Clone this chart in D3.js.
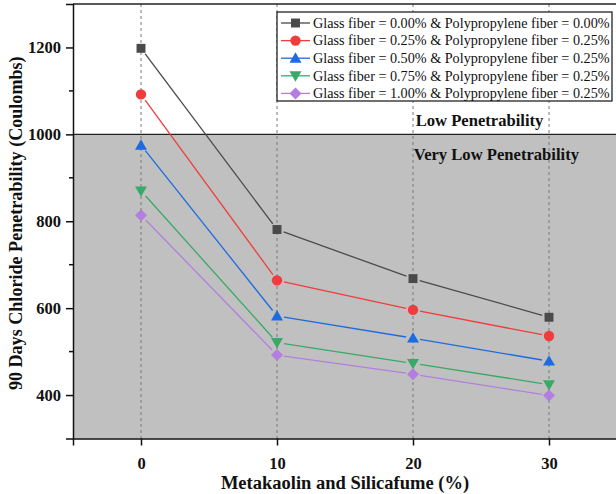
<!DOCTYPE html>
<html>
<head>
<meta charset="utf-8">
<script src="https://cdn.jsdelivr.net/npm/d3@7"></script>
<style>
  html, body { margin: 0; padding: 0; background: #fff; }
  svg { display: block; }
  text { font-family: "Liberation Serif", "Times New Roman", serif; }
</style>
</head>
<body>
<svg id="chart" width="616" height="494"></svg>
<script>
// Replacement level of metakaolin + silica fume (%)
const replacement = [0, 10, 20, 30];

// Series names (fiber dosages)
const seriesNames = [
  "Glass fiber = 0.00% & Polypropylene fiber = 0.00%",
  "Glass fiber = 0.25% & Polypropylene fiber = 0.25%",
  "Glass fiber = 0.50% & Polypropylene fiber = 0.25%",
  "Glass fiber = 0.75% & Polypropylene fiber = 0.25%",
  "Glass fiber = 1.00% & Polypropylene fiber = 0.25%"
];

// 90-day chloride penetrability (Coulombs)
const gf000 = [1198, 781, 668, 579];
const gf025 = [1092, 664, 596, 536];
const gf050 = [975, 582, 531, 478];
const gf075 = [870, 521, 473, 424];
const gf100 = [814, 492, 448, 399];

const yTicks = [400, 600, 800, 1000, 1200];
const yMinorTicks = [500, 700, 900, 1100];
const xTicks = [0, 10, 20, 30];
const zoneLimit = 1000;

const colors = ["#4a4a4a", "#f03c3c", "#1c6be0", "#38aa68", "#b27fe0"];
const symbols = ["square", "circle", "up", "down", "diamond"];

const series = [gf000, gf025, gf050, gf075, gf100].map((vals, i) => ({
  name: seriesNames[i], color: colors[i], symbol: symbols[i],
  points: vals.map((v, j) => ({ x: replacement[j], y: v }))
}));

const svg = d3.select("#chart");
const plotL = 73, plotT = 4, plotR = 617, plotB = 438.5;

const x = d3.scaleLinear().domain([-5, 35]).range([plotL, plotR]);
const y = d3.scaleLinear().domain([300, 1300]).range([plotB, plotT]);

// Penetrability zones
svg.append("rect")
  .attr("x", plotL).attr("y", y(zoneLimit))
  .attr("width", plotR - plotL).attr("height", plotB - y(zoneLimit))
  .attr("fill", "#c0c0c0");
svg.append("line")
  .attr("x1", plotL).attr("x2", plotR)
  .attr("y1", y(zoneLimit)).attr("y2", y(zoneLimit))
  .attr("stroke", "#222").attr("stroke-width", 1.2);

// Vertical dashed grid
svg.append("g").selectAll("line").data(xTicks).join("line")
  .attr("x1", d => x(d)).attr("x2", d => x(d))
  .attr("y1", plotT).attr("y2", plotB)
  .attr("stroke", "#7a7a7a").attr("stroke-width", 1)
  .attr("stroke-dasharray", "3,3");

// Zone labels
svg.append("text").attr("x", x(20.2)).attr("y", y(zoneLimit) - 8)
  .attr("font-size", 16.6).attr("font-weight", "bold").attr("fill", "#111")
  .text("Low Penetrability");
svg.append("text").attr("x", x(20.05)).attr("y", y(zoneLimit) + 26)
  .attr("font-size", 16.6).attr("font-weight", "bold").attr("fill", "#111")
  .text("Very Low Penetrability");

const symbolDefs = {
  square:  { type: d3.symbolSquare,   size: 80, rot: 0,   dy: 0 },
  circle:  { type: d3.symbolCircle,   size: 85, rot: 0,   dy: 0 },
  up:      { type: d3.symbolTriangle, size: 62, rot: 0,   dy: 1 },
  down:    { type: d3.symbolTriangle, size: 62, rot: 180, dy: -1 },
  diamond: { type: d3.symbolSquare,   size: 72, rot: 45,  dy: 0 }
};
function symbolPath(sym) {
  const d = symbolDefs[sym];
  return d3.symbol(d.type, d.size)();
}
function symbolTransform(sym, px, py) {
  const d = symbolDefs[sym];
  return `translate(${px},${py + d.dy}) rotate(${d.rot})`;
}

// Lines with a small gap around each symbol
const gap = 7;
series.forEach(s => {
  const g = svg.append("g");
  for (let i = 0; i < s.points.length - 1; i++) {
    const x1 = x(s.points[i].x), y1 = y(s.points[i].y);
    const x2 = x(s.points[i + 1].x), y2 = y(s.points[i + 1].y);
    const len = Math.hypot(x2 - x1, y2 - y1);
    const ux = (x2 - x1) / len, uy = (y2 - y1) / len;
    g.append("line")
      .attr("x1", x1 + ux * gap).attr("y1", y1 + uy * gap)
      .attr("x2", x2 - ux * gap).attr("y2", y2 - uy * gap)
      .attr("stroke", s.color).attr("stroke-width", 1.3);
  }
  g.selectAll("path").data(s.points).join("path")
    .attr("d", symbolPath(s.symbol))
    .attr("transform", d => symbolTransform(s.symbol, x(d.x), y(d.y)))
    .attr("fill", s.color);
});

// Frame
svg.append("line").attr("x1", plotL).attr("x2", plotR).attr("y1", plotT).attr("y2", plotT)
  .attr("stroke", "#222").attr("stroke-width", 1.5);

// Axes
const yAxis = d3.axisLeft(y).tickValues(yTicks).tickSize(7).tickPadding(5).tickFormat(d3.format("d"));
const gy = svg.append("g").attr("transform", `translate(${plotL},0)`).call(yAxis);
gy.selectAll(".tick line").attr("stroke", "#111").attr("stroke-width", 1.5);
gy.select(".domain").attr("stroke", "#111").attr("stroke-width", 1.5);
gy.selectAll(".tick text").attr("font-size", 16.5).attr("font-weight", "bold")
  .attr("font-family", "Liberation Serif, serif").attr("fill", "#111");
svg.append("g").selectAll("line").data(yMinorTicks).join("line")
  .attr("x1", plotL - 4).attr("x2", plotL).attr("y1", d => y(d)).attr("y2", d => y(d))
  .attr("stroke", "#111").attr("stroke-width", 1.5);

const xAxis = d3.axisBottom(x).tickValues(xTicks).tickSize(7).tickPadding(12).tickFormat(d3.format("d"));
const gx = svg.append("g").attr("transform", `translate(0,${plotB})`).call(xAxis);
gx.selectAll(".tick line").attr("stroke", "#111").attr("stroke-width", 1.5);
gx.select(".domain").attr("stroke", "#111").attr("stroke-width", 1.5);
gx.selectAll(".tick text").attr("font-size", 16.5).attr("font-weight", "bold")
  .attr("font-family", "Liberation Serif, serif").attr("fill", "#111");

// Axis titles
svg.append("text")
  .attr("transform", `translate(22,${(plotT + plotB) / 2 + 2}) rotate(-90)`)
  .attr("text-anchor", "middle").attr("font-size", 18.1).attr("font-weight", "bold").attr("fill", "#111")
  .text("90 Days Chloride Penetrability (Coulombs)");
svg.append("text")
  .attr("x", (plotL + plotR) / 2).attr("y", 489)
  .attr("text-anchor", "middle").attr("font-size", 18.5).attr("font-weight", "bold").attr("fill", "#111")
  .text("Metakaolin and Silicafume (%)");

// Legend
const lg = svg.append("g").attr("transform", "translate(277,12)");
lg.append("rect").attr("width", 335).attr("height", 89)
  .attr("fill", "#fff").attr("stroke", "#111").attr("stroke-width", 1.2);
series.forEach((s, i) => {
  const ry = 11 + i * 17.6;
  lg.append("line").attr("x1", 4).attr("x2", 33).attr("y1", ry).attr("y2", ry)
    .attr("stroke", s.color).attr("stroke-width", 1.3);
  lg.append("path").attr("d", symbolPath(s.symbol))
    .attr("transform", symbolTransform(s.symbol, 18.5, ry))
    .attr("fill", s.color);
  lg.append("text").attr("x", 36).attr("y", ry + 4.8)
    .attr("font-size", 14.2).attr("fill", "#111")
    .text(s.name);
});
</script>
</body>
</html>
